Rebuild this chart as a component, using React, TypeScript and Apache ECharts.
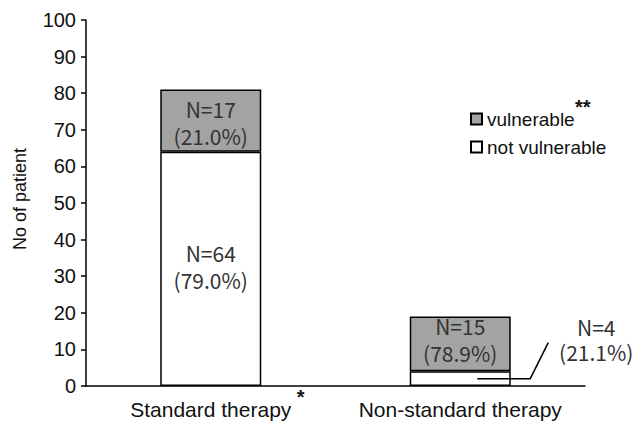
import React, { useEffect, useRef } from "react";
import * as echarts from "echarts";

const categories = ["Standard therapy", "Non-standard therapy"];
const notVulnerable = [64, 4];
const vulnerable = [17, 15];
const yTicks = { min: 0, max: 100, interval: 10 };

const AXIS_FONT = "'Liberation Sans', Arial, sans-serif";
const LABEL_FONT = "'Noto Sans CJK JP', 'Noto Sans', sans-serif";

function pct(v: number, i: number) {
  const total = notVulnerable[i] + vulnerable[i];
  return ((v / total) * 100).toFixed(1);
}

export default function App() {
  const ref = useRef<HTMLDivElement>(null);
  useEffect(() => {
    document.body.style.margin = "0";
    if (!ref.current) return;
    const chart = echarts.init(ref.current, null, { renderer: "svg" });
    const labelStyle = {
      show: true,
      position: "inside",
      fontFamily: LABEL_FONT,
      fontSize: 21,
      lineHeight: 27,
      color: "#333",
    };
    chart.setOption({
      animation: false,
      backgroundColor: "#fff",
      grid: { left: 86, right: 48, top: 20, bottom: 38, containLabel: false },
      legend: {
        orient: "vertical",
        left: 465,
        top: 104,
        itemWidth: 11,
        itemHeight: 11,
        itemGap: 8,
        icon: "rect",
        data: ["vulnerable", "not vulnerable"],
        textStyle: {
          fontFamily: AXIS_FONT,
          fontSize: 19,
          lineHeight: 20,
          color: "#111",
        },
      },
      xAxis: {
        type: "category",
        data: categories,
        axisLine: { lineStyle: { color: "#000", width: 1.5 } },
        axisTick: { show: false },
        axisLabel: {
          interval: 0,
          fontFamily: AXIS_FONT,
          fontSize: 21,
          color: "#111",
          margin: 13,
        },
      },
      yAxis: {
        type: "value",
        min: yTicks.min,
        max: yTicks.max,
        interval: yTicks.interval,
        splitLine: { show: false },
        axisLine: { show: true, lineStyle: { color: "#000", width: 1.5 } },
        axisTick: { show: true, length: 5, lineStyle: { color: "#000", width: 1.5 } },
        axisLabel: {
          fontFamily: AXIS_FONT,
          fontSize: 20,
          color: "#111",
          margin: 10,
        },
      },
      series: [
        {
          name: "not vulnerable",
          type: "bar",
          stack: "total",
          barWidth: 101,
          itemStyle: { color: "#ffffff", borderColor: "#000", borderWidth: 1.5 },
          data: notVulnerable.map((v, i) => ({
            value: v,
            label:
              i === 0
                ? { ...labelStyle, formatter: () => `N=${v}\n(${pct(v, i)}%)`, offset: [0, -2] }
                : { show: false },
          })),
        },
        {
          name: "vulnerable",
          type: "bar",
          stack: "total",
          barWidth: 101,
          itemStyle: { color: "#a3a3a3", borderColor: "#000", borderWidth: 1.5 },
          data: vulnerable.map((v, i) => ({
            value: v,
            label: {
              ...labelStyle,
              formatter: () => `N=${v}\n(${pct(v, i)}%)`,
              offset: [0, i === 0 ? 2 : -4],
            },
          })),
        },
      ],
    });

    const idx = 1;
    const anchor = chart.convertToPixel({ xAxisIndex: 0, yAxisIndex: 0 }, [
      categories[idx],
      notVulnerable[idx] / 2,
    ]) as number[];
    const ax = anchor[0];
    const ay = anchor[1];
    const first = chart.convertToPixel({ xAxisIndex: 0, yAxisIndex: 0 }, [
      categories[0],
      0,
    ]) as number[];

    chart.setOption({
      graphic: [
        {
          type: "text",
          x: 20,
          y: 199,
          rotation: Math.PI / 2,
          style: {
            text: "No of patient",
            fontFamily: AXIS_FONT,
            fontSize: 18,
            fill: "#111",
            align: "center",
            verticalAlign: "middle",
          },
        },
        {
          type: "polyline",
          shape: {
            points: [
              [ax + 17, ay],
              [ax + 70, ay],
              [ax + 88, ay - 36],
            ],
          },
          style: { stroke: "#000", lineWidth: 1.5, fill: null },
          z: 10,
        },
        {
          type: "text",
          x: ax + 136,
          y: ay - 39,
          style: {
            text: `N=${notVulnerable[idx]}\n(${pct(notVulnerable[idx], idx)}%)`,
            fontFamily: LABEL_FONT,
            fontSize: 21,
            lineHeight: 25,
            fill: "#333",
            align: "center",
            verticalAlign: "middle",
          },
        },
        {
          type: "text",
          x: first[0] + 86,
          y: first[1] + 1,
          style: {
            text: "*",
            fontFamily: AXIS_FONT,
            fontSize: 20,
            fontWeight: "bold",
            fill: "#111",
          },
        },
        {
          type: "text",
          x: 575,
          y: 97,
          style: {
            text: "**",
            fontFamily: AXIS_FONT,
            fontSize: 20,
            fontWeight: "bold",
            fill: "#111",
          },
        },
      ],
    });

    return () => chart.dispose();
  }, []);
  return <div ref={ref} style={{ width: 633, height: 424 }} />;
}
